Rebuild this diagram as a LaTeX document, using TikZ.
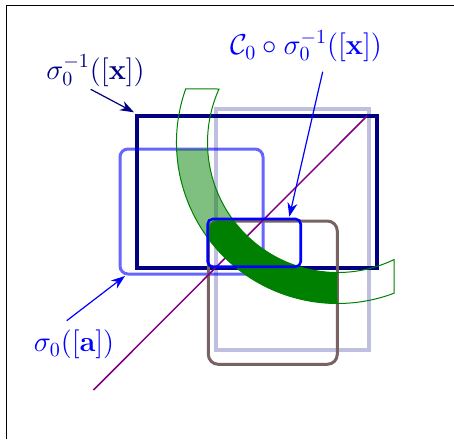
\documentclass[tikz,border=0pt]{standalone}
\usetikzlibrary{arrows.meta,calc}
\definecolor{navyc}{RGB}{0,0,128}
\definecolor{dgreen}{RGB}{0,128,0}
\definecolor{brownc}{RGB}{120,98,98}
\definecolor{purplec}{RGB}{128,0,128}
\begin{document}
\begin{tikzpicture}[x=0.5pt,y=-0.5pt,
  lbl/.style={anchor=base,inner sep=0pt,font=\fontsize{14}{17}\selectfont},
  arr/.style={-{Stealth[length=7pt,width=5pt]},line width=0.6pt},
  frameline/.style={line width=0.8pt,black},
  bandline/.style={draw=dgreen,line width=0.5pt}]
\useasboundingbox (0,0) rectangle (454,439);
% frame
\draw[frameline] (6.5,439) -- (6.5,5.5) -- (454,5.5);
% rectangles
\draw[navyc,opacity=0.25,line width=2pt] (216,109) rectangle (369.3,350);
\draw[navyc,line width=2pt] (136.5,116) rectangle (376.5,268);
\draw[blue,opacity=0.6,line width=1.5pt,rounded corners=4pt] (120,149) rectangle (263,274);
\draw[brownc,line width=1.5pt,rounded corners=5pt] (208.3,221) rectangle (337.3,364.3);
\draw[purplec,line width=0.75pt] (93.5,390) -- (367,116);
% band
\coordinate (C) at (337.5,142.5);
\begin{scope}
  \clip[rounded corners=4pt] (120,149) rectangle (263,274);
  \fill[dgreen,opacity=0.5] ([shift={(-160.55:161)}]C) arc[start angle=-160.55,end angle=-290.58,radius=161]
    -- ([shift={(-295.77:130)}]C) arc[start angle=-295.77,end angle=-155.7,radius=130] -- cycle;
\end{scope}
\begin{scope}
  \clip[rounded corners=5pt] (208.3,221) rectangle (337.3,364.3);
  \fill[dgreen] ([shift={(-160.55:161)}]C) arc[start angle=-160.55,end angle=-290.58,radius=161]
    -- ([shift={(-295.77:130)}]C) arc[start angle=-295.77,end angle=-155.7,radius=130] -- cycle;
\end{scope}
\draw[bandline] ([shift={(-160.55:161)}]C) arc[start angle=-160.55,end angle=-290.58,radius=161]
    -- ([shift={(-295.77:130)}]C) arc[start angle=-295.77,end angle=-155.7,radius=130] -- cycle;
% small rect
\draw[blue,line width=1.3pt,rounded corners=2.5pt] (207.7,219) rectangle (300.7,266.7);
% labels
\node[lbl,text=navyc] (l1) at (95.5,79) {$\sigma_0^{-1}([\mathbf{x}])$};
\node[lbl,text=blue] (l2) at (306,54.7) {$\mathcal{C}_0\circ\sigma_0^{-1}([\mathbf{x}])$};
\node[lbl,text=blue] (l3) at (74,351.7) {$\sigma_0([\mathbf{a}])$};
% arrows
\coordinate (a1s) at (90.7,89.3); \coordinate (a1e) at (134,112.3);
\coordinate (a2s) at (322.7,71.7); \coordinate (a2e) at (289.3,216.7);
\coordinate (a3s) at (66.7,320.7); \coordinate (a3e) at (125,276);
\draw[arr,navyc] (a1s) -- (a1e);
\draw[arr,blue] (a2s) -- (a2e);
\draw[arr,blue] (a3s) -- (a3e);
\end{tikzpicture}
\end{document}
